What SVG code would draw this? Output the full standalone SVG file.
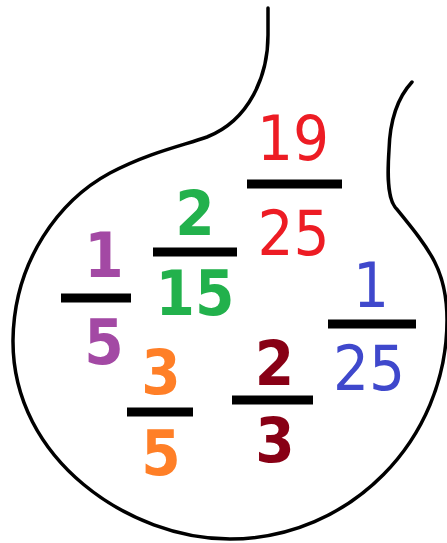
<svg xmlns="http://www.w3.org/2000/svg" width="447" height="543" viewBox="0 0 447 543">
<style>
.outline{fill:none;stroke:#000;stroke-width:3.5;stroke-linecap:round;stroke-linejoin:round}
.bar{stroke:#000;stroke-width:9}
text{font-family:"DejaVu Sans Condensed","DejaVu Sans",sans-serif;font-stretch:condensed;font-size:63px;text-anchor:middle}
.b{font-weight:bold}
.red{fill:#ED1C24}.green{fill:#22B14C}.purple{fill:#A349A4}.blue{fill:#3F48CC}.orange{fill:#FF7F27}.dred{fill:#880015}
</style>
<rect width="447" height="543" fill="#fff"/>
<path class="outline" d="M268,8 L268,35 C268,75 250,120 207,137 C185,145 150,152 110,173 C60,200 14,260 13,340 C12,460 130,539 230,539 C350,539 447,440 447,320 C447,270 430,250 395,207 C386,195 388,165 389,150 C390,115 400,95 412,82"/>
<g id="f19_25">
<text class="red" x="293" y="160">19</text>
<line class="bar" x1="247" y1="184" x2="342" y2="184"/>
<text class="red" x="293.5" y="255">25</text>
</g>
<g id="f2_15">
<text class="green b" x="195" y="235">2</text>
<line class="bar" x1="153" y1="252" x2="237" y2="252"/>
<text class="green b" x="195" y="315">15</text>
</g>
<g id="f1_5">
<text class="purple b" x="104" y="277">1</text>
<line class="bar" x1="61" y1="298" x2="131" y2="298"/>
<text class="purple b" x="104" y="364">5</text>
</g>
<g id="f1_25">
<text class="blue" x="371" y="307">1</text>
<line class="bar" x1="328" y1="324" x2="416" y2="324"/>
<text class="blue" x="369" y="390">25</text>
</g>
<g id="f3_5">
<text class="orange b" x="161" y="394">3</text>
<line class="bar" x1="127" y1="412" x2="193" y2="412"/>
<text class="orange b" x="161" y="475">5</text>
</g>
<g id="f2_3">
<text class="dred b" x="274.5" y="385">2</text>
<line class="bar" x1="232" y1="400" x2="313" y2="400"/>
<text class="dred b" x="275" y="462">3</text>
</g>
</svg>
